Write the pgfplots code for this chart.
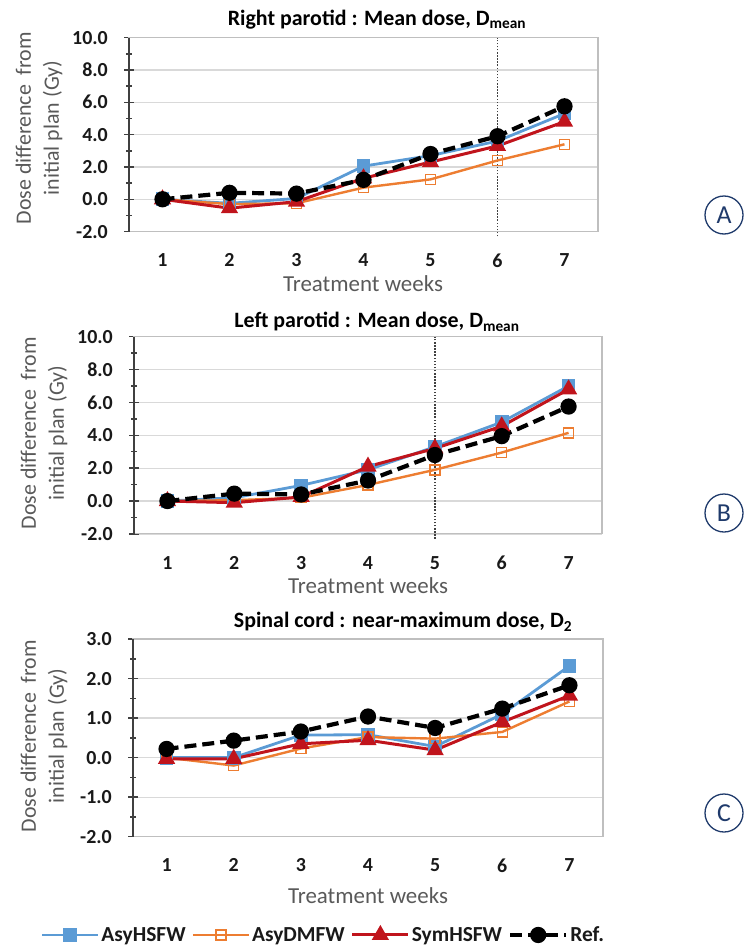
\documentclass[border=0pt]{standalone}
\usepackage{fontspec}
\setmainfont{Carlito}
\usepackage{pgfplots}
\pgfplotsset{compat=1.18}
\definecolor{cblue}{HTML}{5B9BD5}
\definecolor{corange}{HTML}{ED7D31}
\definecolor{cred}{HTML}{C0141C}
\definecolor{navy}{HTML}{1F3A6B}
\definecolor{gridgray}{HTML}{D9D9D9}
\definecolor{boxgray}{HTML}{BFBFBF}
\definecolor{axgray}{HTML}{404040}
\definecolor{labgray}{HTML}{595959}

\pgfplotsset{
  panel/.style={
    scale only axis,
    xmin=0.5, xmax=7.5,
    xtick={1,...,7},
    x tick style={draw=none},
    ytick pos=left,
    ymajorgrids,
    major grid style={gridgray, line width=1.3bp},
    axis line style={boxgray, line width=1.1bp},
    y tick style={axgray, line width=1.5bp},
    major tick length=10bp,
    minor tick length=6bp,
    tick align=center,
    /pgf/number format/assume math mode=true,
    /pgf/number format/fixed,
    /pgf/number format/fixed zerofill,
    /pgf/number format/precision=1,
    tick label style={font=\bfseries\fontsize{20}{22}\selectfont, text=black!90},
    yticklabel style={inner sep=0pt, anchor=east, xshift=-16bp},
    xticklabel style={inner sep=0pt, anchor=north, yshift=-17bp},
    xticklabel={\pgfmathprintnumber[precision=0,fixed zerofill=false]{\tick}},
    clip=false,
    legend image code/.code={\draw[mark repeat=2,mark phase=2] plot coordinates {(0bp,0bp) (28bp,0bp) (56bp,0bp)};},
  },
  sblue/.style={cblue, line width=2.8bp, mark=square*, mark size=5.5bp, mark options={solid, fill=cblue}},
  sorange/.style={corange, line width=2.4bp, mark=square, mark size=5bp, mark options={solid, fill=white, line width=1.4bp}},
  sred/.style={cred, line width=3bp, mark=triangle*, mark size=7bp, mark options={solid, fill=cred}},
  sref/.style={black, line width=4.2bp, dash pattern=on 12bp off 6bp, mark=*, mark size=6bp, mark options={solid, fill=black}},
  vdot/.style={axgray, line width=1.5bp, dash pattern=on 1.5bp off 1.6bp, forget plot},
}

\begin{document}
\begin{tikzpicture}
\path[use as bounding box] (0,0) rectangle (744bp,-949bp);

% ---------- Panel A ----------
\begin{axis}[panel, at={(129bp,-231.6bp)}, anchor=south west, width=469bp, height=194bp,
  ymin=-2, ymax=10, ytick={-2,0,...,10}, minor y tick num=1]
\addplot[vdot] coordinates {(6,-2.3) (6,10)};
\addplot[sblue] coordinates {(1,0) (2,-0.25) (3,0.05) (4,2.05) (5,2.7) (6,3.6) (7,5.3)};
\addplot[sorange] coordinates {(1,0) (2,-0.3) (3,-0.25) (4,0.72) (5,1.23) (6,2.4) (7,3.4)};
\addplot[sred] coordinates {(1,0) (2,-0.55) (3,-0.15) (4,1.3) (5,2.3) (6,3.3) (7,4.8)};
\addplot[sref] coordinates {(1,0) (2,0.4) (3,0.35) (4,1.2) (5,2.8) (6,3.9) (7,5.75)};
\draw[axgray, line width=1.9bp] (rel axis cs:0,0) -- (rel axis cs:0,1);
\end{axis}

% ---------- Panel B ----------
\begin{axis}[panel, at={(134bp,-533.9bp)}, anchor=south west, width=468bp, height=197.2bp,
  ymin=-2, ymax=10, ytick={-2,0,...,10}, minor y tick num=1]
\addplot[vdot] coordinates {(5,-2.3) (5,10)};
\addplot[sblue] coordinates {(1,0) (2,0.2) (3,0.95) (4,1.9) (5,3.3) (6,4.8) (7,7.0)};
\addplot[sorange] coordinates {(1,0) (2,0.05) (3,0.2) (4,0.98) (5,1.9) (6,2.95) (7,4.15)};
\addplot[sred] coordinates {(1,0) (2,-0.1) (3,0.25) (4,2.1) (5,3.2) (6,4.55) (7,6.8)};
\addplot[sref] coordinates {(1,0) (2,0.45) (3,0.4) (4,1.25) (5,2.8) (6,3.95) (7,5.75)};
\draw[axgray, line width=1.9bp] (rel axis cs:0,0) -- (rel axis cs:0,1);
\end{axis}

% ---------- Panel C ----------
\begin{axis}[panel, at={(133bp,-836.7bp)}, anchor=south west, width=470bp, height=197.7bp,
  ymin=-2, ymax=3, ytick={-2,-1,...,3}, minor y tick num=1,
  legend columns=4,
  legend style={at={(axis description cs:0.405,-0.497)}, anchor=center, draw=none, fill=none,
    font=\bfseries\fontsize{21.5}{24}\selectfont, text=black!90,
    /tikz/every even column/.append style={column sep=4bp}}]
\addplot[sblue] coordinates {(1,0) (2,0.0) (3,0.57) (4,0.58) (5,0.28) (6,1.1) (7,2.32)};
\addlegendentry{AsyHSFW}
\addplot[sorange] coordinates {(1,0) (2,-0.2) (3,0.23) (4,0.52) (5,0.48) (6,0.65) (7,1.42)};
\addlegendentry{AsyDMFW}
\addplot[sred] coordinates {(1,-0.03) (2,-0.03) (3,0.35) (4,0.44) (5,0.19) (6,0.9) (7,1.57)};
\addlegendentry{SymHSFW}
\addplot[sref] coordinates {(1,0.22) (2,0.43) (3,0.66) (4,1.04) (5,0.75) (6,1.24) (7,1.83)};
\addlegendentry{Ref.}
\draw[axgray, line width=1.9bp] (rel axis cs:0,0) -- (rel axis cs:0,1);
\end{axis}

% ---------- titles ----------
\node[font=\bfseries\fontsize{22}{24}\selectfont] at (377bp,-20bp) {Right parotid : Mean dose, D\textsubscript{mean}};
\node[font=\bfseries\fontsize{22}{24}\selectfont] at (377bp,-322bp) {Left parotid : Mean dose, D\textsubscript{mean}};
\node[font=\bfseries\fontsize{22}{24}\selectfont] at (403bp,-622bp) {Spinal cord : near-maximum dose, D\textsubscript{2}};

% ---------- axis labels ----------
\foreach \yy/\xx in {128/39, 433/44, 736/44}{
  \node[rotate=90, align=center, text=labgray, font=\fontsize{22}{28}\selectfont] at (\xx bp,-\yy bp) {Dose difference\ \ from\\initial plan (Gy)};
}
\node[text=labgray, font=\fontsize{23}{24}\selectfont] at (363bp,-284bp) {Treatment weeks};
\node[text=labgray, font=\fontsize{23}{24}\selectfont] at (368bp,-586bp) {Treatment weeks};
\node[text=labgray, font=\fontsize{23}{24}\selectfont] at (368bp,-896bp) {Treatment weeks};

% ---------- panel letters ----------
\foreach \yy/\ll in {215/A, 513/B, 813/C}{
  \node[circle, draw=navy, line width=1.3bp, minimum size=38bp, inner sep=0pt, text=navy, font=\fontsize{26}{26}\selectfont] at (724bp,-\yy bp) {\ll};
}
\end{tikzpicture}
\end{document}
